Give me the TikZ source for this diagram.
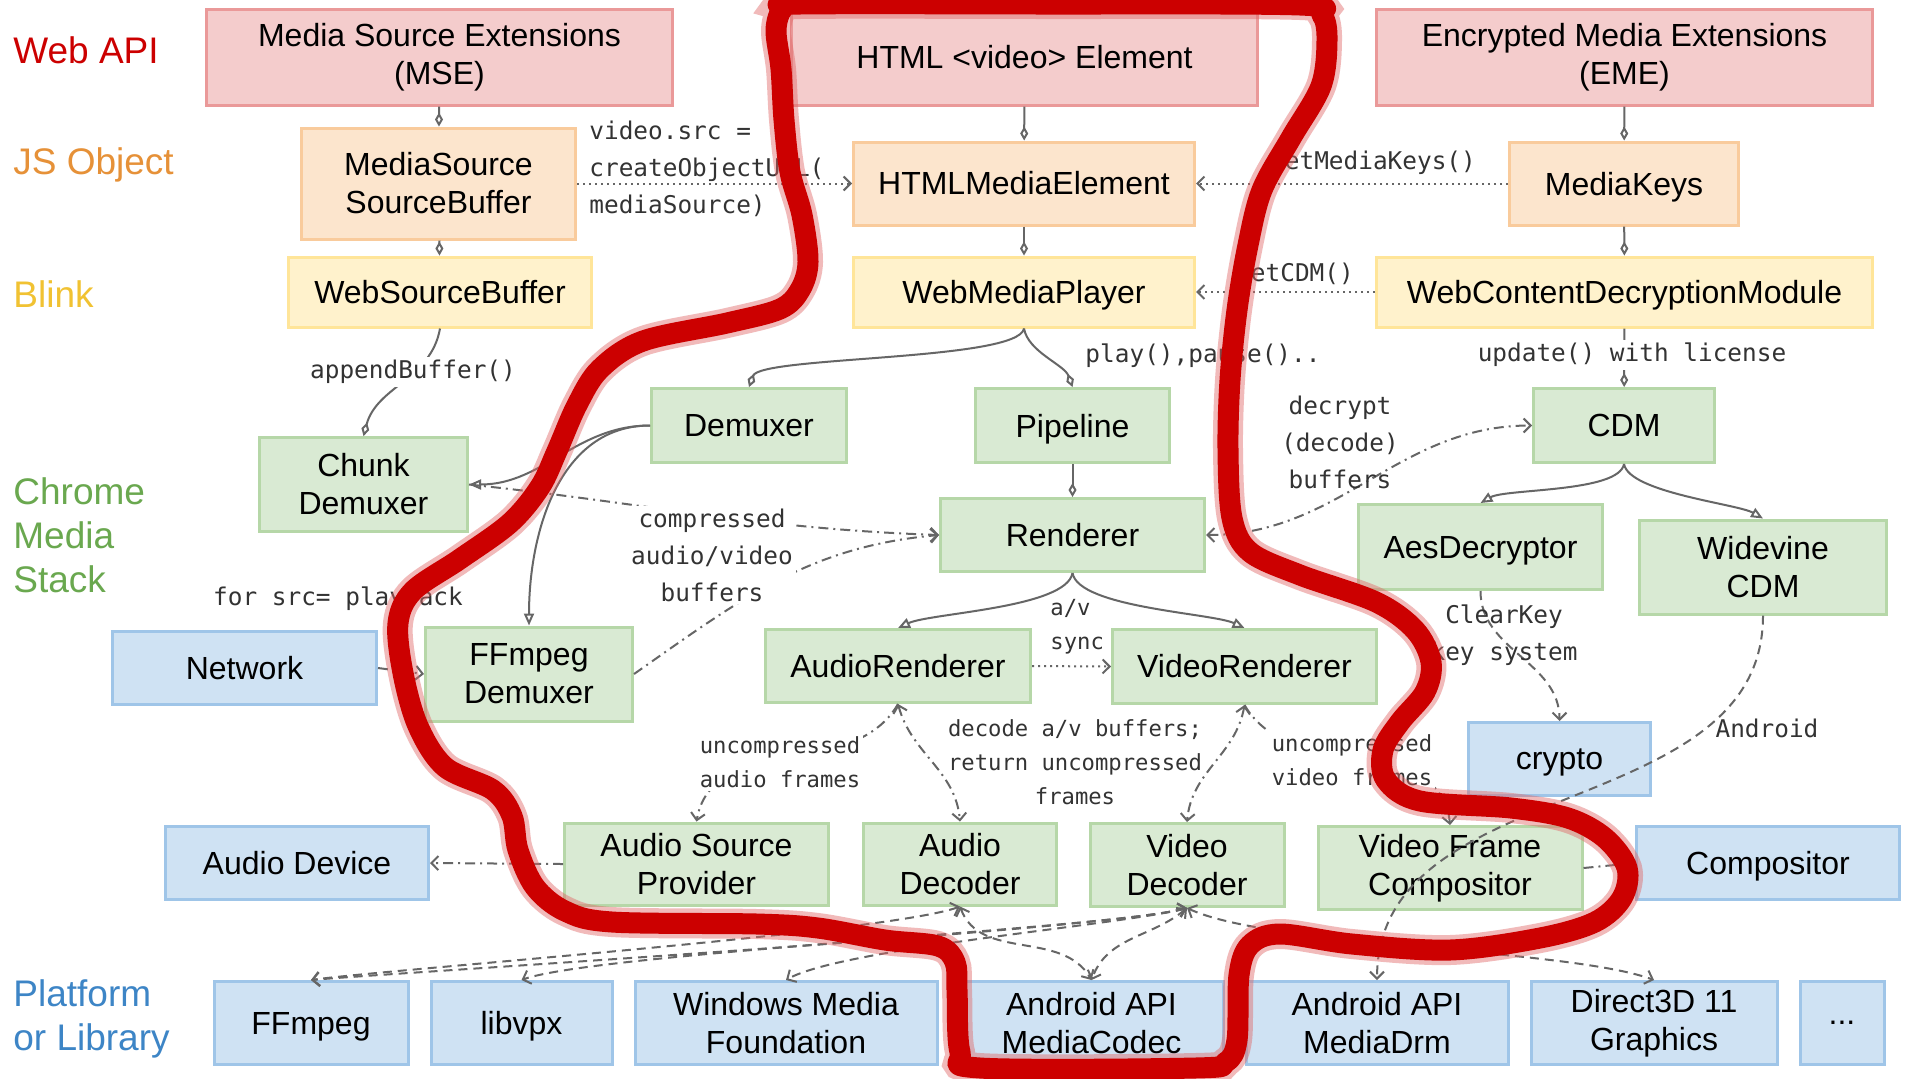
\documentclass[tikz,border=0pt]{standalone}
\usepackage{fontspec}
\setmainfont{Liberation Sans}
\newfontfamily\codefont{DejaVu Sans Mono}
\usetikzlibrary{arrows.meta, positioning}
\pgfdeclarelayer{background}
\pgfsetlayers{background,main}

\definecolor{apiFill}{HTML}{F4CCCC}
\definecolor{apiLine}{HTML}{EA9999}
\definecolor{jsFill}{HTML}{FCE5CD}
\definecolor{jsLine}{HTML}{F9CB9C}
\definecolor{blinkFill}{HTML}{FFF2CC}
\definecolor{blinkLine}{HTML}{FFE599}
\definecolor{stackFill}{HTML}{D9EAD3}
\definecolor{stackLine}{HTML}{B6D7A8}
\definecolor{libFill}{HTML}{CFE2F3}
\definecolor{libLine}{HTML}{9FC5E8}
\definecolor{apiText}{HTML}{CC0000}
\definecolor{jsText}{HTML}{E69138}
\definecolor{blinkText}{HTML}{F1C232}
\definecolor{stackText}{HTML}{6AA84F}
\definecolor{libText}{HTML}{3D85C6}
\definecolor{codeText}{HTML}{333333}
\definecolor{wireGray}{HTML}{666666}
\definecolor{markerRed}{HTML}{CC0000}
\definecolor{markerGlow}{HTML}{E06666}

\begin{document}
\begin{tikzpicture}[
    x=0.5pt, y=0.5pt,
    node distance=10pt,
    >={Straight Barb[length=3.5pt, width=7pt]},
    layerbox/.style={rectangle, line width=1.5pt, align=center, inner sep=0pt,
                     font=\fontsize{16}{19}\selectfont},
    api/.style={layerbox, draw=apiLine, fill=apiFill},
    jsobj/.style={layerbox, draw=jsLine, fill=jsFill},
    blinkbox/.style={layerbox, draw=blinkLine, fill=blinkFill},
    stack/.style={layerbox, draw=stackLine, fill=stackFill},
    libbox/.style={layerbox, draw=libLine, fill=libFill},
    librow/.style={libbox, minimum height=41.5pt},
    nodepth/.style={text depth=0pt},
    layername/.style={anchor=west, align=left, inner sep=0pt,
                      font=\fontsize{18.5}{22}\selectfont},
    codelabel/.style={font=\codefont\fontsize{12.2}{18.5}\selectfont, text=codeText,
                      inner sep=1.5pt, align=center},
    smallcode/.style={codelabel, font=\codefont\fontsize{11.1}{17}\selectfont},
    cut/.style={fill=white},
    wire/.style={draw=wireGray, line width=1pt},
    own/.style={wire, -{Diamond[open, length=7pt, width=4pt]}},
    spawn/.style={wire, -{Triangle[open, length=6pt, width=5pt]}},
    call/.style={wire, dash pattern=on 1pt off 2pt, ->},
    flow/.style={wire, dash pattern=on 5pt off 2.5pt on 1pt off 2.5pt, ->},
    uses/.style={wire, dash pattern=on 4.5pt off 3pt, ->},
    focus/.style={draw=markerRed, line width=10.5pt, line join=round,
                  preaction={draw=markerGlow, line width=15pt, opacity=0.45}}
]
\useasboundingbox (0,0) rectangle (1920,-1078);
\fill[white] (0,0) rectangle (1920,-1078);

\node[layername, text=apiText] (webapi) at (13,-50) {Web API};
\node[layername, text=jsText] (jsobject) at (13,-165) {JS Object};
\node[layername, text=blinkText] (blink) at (13,-294) {Blink};
\node[layername, text=stackText] (chromestack) at (13,-535) {Chrome\\Media\\Stack};
\node[layername, text=libText] (platform) at (13,-1019) {Platform\\or Library};

\node[api, minimum width=233pt, minimum height=48pt] (mse) at (439.5,-57) {Media Source Extensions\\(MSE)};
\node[api, minimum width=233pt, minimum height=48pt] (htmlvideo) at (1024.5,-57) {HTML <video> Element};
\node[api, minimum width=248pt, minimum height=48pt] (eme) at (1624.5,-57) {Encrypted Media Extensions\\(EME)};

\node[jsobj, minimum width=137pt, minimum height=55.5pt] (mediasource) at (438.5,-183.5) {MediaSource\\SourceBuffer};
\node[jsobj, minimum width=170.5pt, minimum height=41.5pt] (htmlelement) at (1024,-183.5) {HTMLMediaElement};
\node[jsobj, nodepth, minimum width=114.5pt, minimum height=41.5pt] (mediakeys) at (1624,-183.5) {MediaKeys};

\node[blinkbox, minimum width=151.5pt, minimum height=35pt] (websourcebuffer) at (440,-292) {WebSourceBuffer};
\node[blinkbox, nodepth, minimum width=170.5pt, minimum height=35pt] (webplayer) at (1024,-292) {WebMediaPlayer};
\node[blinkbox, nodepth, minimum width=248pt, minimum height=35pt] (webcdm) at (1624.5,-292) {WebContentDecryptionModule};

\node[stack, minimum width=97.5pt, minimum height=37pt] (demuxer) at (749,-425.5) {Demuxer};
\node[stack, nodepth, minimum width=97pt, minimum height=37pt] (pipeline) at (1072.5,-425.5) {Pipeline};
\node[stack, minimum width=90.5pt, minimum height=37pt] (cdm) at (1624,-425.5) {CDM};
\node[stack, minimum width=104pt, minimum height=47pt] (chunkdemuxer) at (363.5,-484.5) {Chunk\\Demuxer};
\node[stack, minimum width=132pt, minimum height=36.5pt] (renderer) at (1072.5,-535) {Renderer};
\node[stack, nodepth, minimum width=122pt, minimum height=42.5pt] (aesdecryptor) at (1480.5,-547) {AesDecryptor};
\node[stack, minimum width=123.5pt, minimum height=47pt] (widevine) at (1763,-567) {Widevine\\CDM};

\node[libbox, minimum width=132pt, minimum height=36.5pt] (network) at (244.5,-668) {Network};
\node[stack, minimum width=103.5pt, minimum height=47pt] (ffdemuxer) at (529,-674) {FFmpeg\\Demuxer};
\node[stack, minimum width=132.5pt, minimum height=36.5pt] (audiorenderer) at (898,-666) {AudioRenderer};
\node[stack, minimum width=132pt, minimum height=37pt] (videorenderer) at (1244.5,-666.5) {VideoRenderer};
\node[libbox, nodepth, minimum width=91pt, minimum height=36.5pt] (crypto) at (1559.5,-759) {crypto};

\node[libbox, minimum width=131.5pt, minimum height=36.5pt] (audiodevice) at (297,-863) {Audio Device};
\node[stack, minimum width=132pt, minimum height=41pt] (sourceprovider) at (696.5,-864) {Audio Source\\Provider};
\node[stack, minimum width=96.5pt, minimum height=41pt] (audiodecoder) at (960,-864) {Audio\\Decoder};
\node[stack, minimum width=97pt, minimum height=41.5pt] (videodecoder) at (1187,-865) {Video\\Decoder};
\node[stack, minimum width=132pt, minimum height=41.5pt] (framecompositor) at (1450,-868) {Video Frame\\Compositor};
\node[libbox, nodepth, minimum width=131.5pt, minimum height=36.5pt] (compositor) at (1768,-863) {Compositor};

\node[librow, nodepth, minimum width=97pt] (ffmpeg) at (311,-1023) {FFmpeg};
\node[librow, nodepth, minimum width=90.5pt, right=of ffmpeg] (libvpx) {libvpx};
\node[librow, minimum width=151pt, right=of libvpx] (wmf) {Windows Media\\Foundation};
\node[librow, minimum width=131.5pt, right=of wmf] (mediacodec) {Android API\\MediaCodec};
\node[librow, minimum width=131pt, right=of mediacodec] (mediadrm) {Android API\\MediaDrm};
\node[librow, minimum width=123pt, right=of mediadrm] (direct3d) {Direct3D 11\\Graphics};
\node[librow, minimum width=42pt, right=of direct3d] (more) {...};

\draw[own] (mse) -- (mediasource);
\draw[own] (mediasource) -- (websourcebuffer);
\draw[own] (htmlvideo) -- (htmlelement);
\draw[own] (htmlelement) -- (webplayer);
\draw[own] (eme) -- (mediakeys);
\draw[own] (mediakeys) -- (webcdm);
\draw[own] (webcdm) -- (cdm);
\draw[own] (pipeline) -- (renderer);
\draw[own] (websourcebuffer.south) to[out=-100, in=75] (chunkdemuxer.north);
\draw[own] (webplayer.south) to[out=-100, in=70, looseness=0.3] (demuxer.north);
\draw[own] (webplayer.south) to[out=-80, in=110, looseness=0.8] (pipeline.north);

\draw[spawn] (demuxer.west) to[out=180, in=0] (chunkdemuxer.east);
\draw[spawn] (demuxer.west) to[out=180, in=90] (ffdemuxer.north);
\draw[spawn] (renderer.south) to[out=-100, in=25, looseness=0.5] (audiorenderer.north);
\draw[spawn] (renderer.south) to[out=-80, in=155, looseness=0.5] (videorenderer.north);
\draw[spawn] (cdm.south) to[out=-100, in=30, looseness=0.5] (aesdecryptor.north);
\draw[spawn] (cdm.south) to[out=-80, in=150, looseness=0.5] (widevine.north);

\draw[call] (mediasource.east) -- (htmlelement.west);
\draw[call] (mediakeys.west) -- (htmlelement.east);
\draw[call] (webcdm.west) -- (webplayer.east);
\draw[call] (audiorenderer.east) -- (videorenderer.west);

\draw[flow] (chunkdemuxer.east) to[out=-6, in=178] (renderer.west);
\draw[flow] (ffdemuxer.east) to[out=35, in=185] (renderer.west);
\draw[flow, <->] (renderer.east) to[out=0, in=180] (cdm.west);
\draw[flow] (network.east) -- (ffdemuxer.west);
\draw[flow] (sourceprovider.west) -- (audiodevice.east);
\draw[flow] (framecompositor.east) -- (compositor.west);
\draw[flow, <->] (audiorenderer.south) to[out=-75, in=95] (audiodecoder.north);
\draw[flow] (audiorenderer.south) to[out=-120, in=80] (sourceprovider.north);
\draw[flow, <->] (videorenderer.south) to[out=-100, in=85] (videodecoder.north);
\draw[flow] (videorenderer.south) to[out=-60, in=95] (framecompositor.north);

\draw[uses] (aesdecryptor.south) to[out=-90, in=90] (crypto.north);
\draw[uses] (widevine.south) to[out=-90, in=90] (mediadrm.north);
\begin{pgfonlayer}{background}
\draw[uses] (ffdemuxer.south) to[out=-92, in=90] (ffmpeg.north);
\end{pgfonlayer}
\draw[uses, <->] (audiodecoder.south) to[out=200, in=8, looseness=0.3] (ffmpeg.north);
\draw[uses, <->] (audiodecoder.south) to[out=-70, in=120] (mediacodec.north);
\draw[uses, <->] (videodecoder.south) to[out=195, in=5, looseness=0.25] (ffmpeg.north);
\draw[uses, <->] (videodecoder.south) to[out=195, in=20, looseness=0.3] (libvpx.north);
\draw[uses, <->] (videodecoder.south) to[out=195, in=30, looseness=0.4] (wmf.north);
\draw[uses, <->] (videodecoder.south) to[out=-140, in=70] (mediacodec.north);
\draw[uses, <->] (videodecoder.south) to[out=-25, in=160, looseness=0.5] (direct3d.north);

\node[codelabel, anchor=west, align=left] (srclabel) at (586,-169) {video.src =\\createObjectURL(\\mediaSource)};
\node[codelabel] (mediakeyslabel) at (1373,-163) {setMediaKeys()};
\node[codelabel] (cdmlabel) at (1295,-274) {setCDM()};
\node[codelabel, cut] (appendlabel) at (413,-372) {appendBuffer()};
\node[codelabel] (playlabel) at (1203,-356) {play(),pause()..};
\node[codelabel, cut] (updatelabel) at (1632,-355) {update() with license};
\node[codelabel] (decryptlabel) at (1340,-442) {decrypt\\(decode)\\buffers};
\node[codelabel, cut] (compressedlabel) at (712,-555) {compressed\\audio/video\\buffers};
\node[codelabel] (playbacklabel) at (338,-599) {for src= playback};
\node[smallcode, anchor=west, align=left] (synclabel) at (1047,-627) {a/v\\sync};
\node[smallcode, cut, align=left] (audioframeslabel) at (780,-762) {uncompressed\\audio frames};
\node[smallcode] (decodelabel) at (1075,-762) {decode a/v buffers;\\return uncompressed\\frames};
\node[smallcode, cut, align=left] (videoframeslabel) at (1352,-760) {uncompressed\\video frames};
\node[codelabel] (clearkeylabel) at (1504,-635) {ClearKey\\key system};
\node[codelabel] (androidlabel) at (1767,-728) {Android};

\draw[focus] plot[smooth cycle, tension=0.55] coordinates {
  (783,-8) (800,-4) (1040,-4) (1300,-5) (1322,-15) (1327,-40) (1321,-86)
  (1291,-138) (1262,-190) (1248,-245) (1237,-310) (1230,-380) (1228,-450)
  (1232,-518) (1250,-552) (1300,-575) (1376,-602) (1415,-630) (1431,-662)
  (1425,-692) (1400,-722) (1383,-750) (1386,-780) (1420,-801) (1511,-808)
  (1568,-818) (1605,-838) (1627,-868) (1622,-898) (1595,-922) (1540,-938)
  (1450,-950) (1352,-944) (1280,-934) (1250,-945) (1239,-975) (1237,-1040)
  (1226,-1062) (1195,-1068) (980,-1068) (960,-1052) (957,-990) (955,-962)
  (938,-946) (885,-940) (818,-928) (757,-924) (612,-922) (565,-911)
  (535,-887) (518,-850) (512,-816) (493,-790) (445,-767) (418,-726)
  (403,-673) (398,-623) (413,-591) (460,-559) (510,-523) (540,-487)
  (557,-451) (577,-405) (600,-369) (643,-341) (727,-323) (780,-309)
  (800,-290) (808,-262) (802,-215) (790,-172) (784,-120) (781,-69) (776,-30)};
\end{tikzpicture}
\end{document}
